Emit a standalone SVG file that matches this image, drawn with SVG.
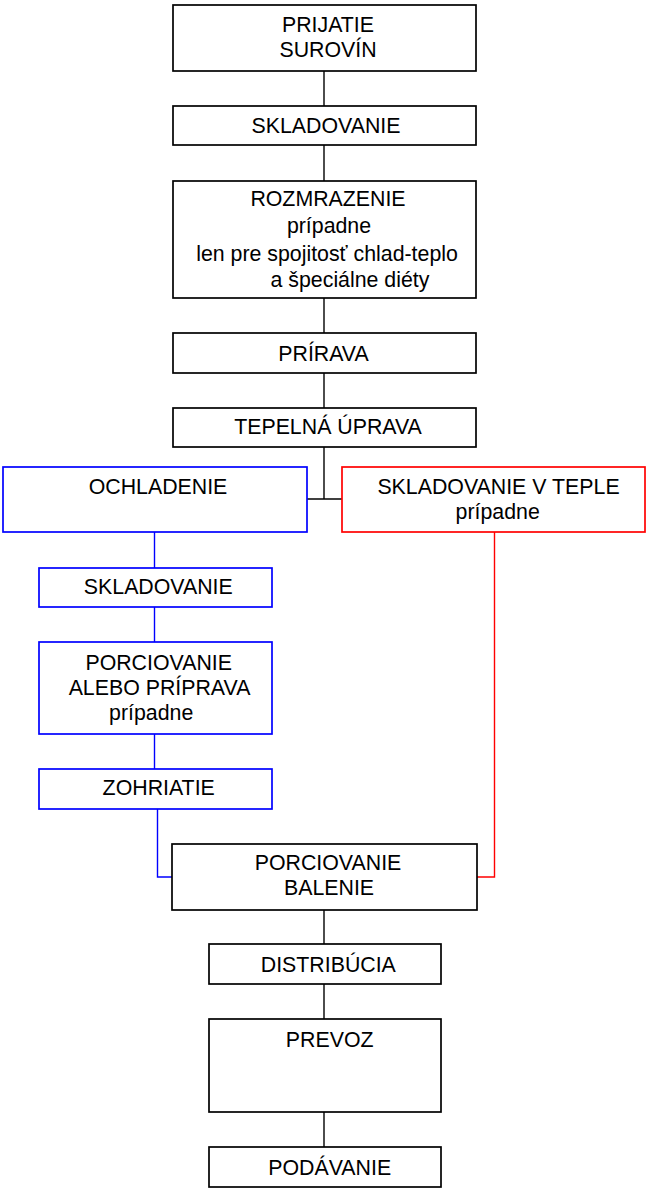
<svg xmlns="http://www.w3.org/2000/svg" width="646" height="1188" viewBox="0 0 646 1188">
<style>
rect{fill:#fff;stroke-width:1.7}
.k rect{stroke:#000}
.b rect{stroke:#0000ff}
.r rect{stroke:#ff0000}
text{font-family:"Liberation Sans",Arial,sans-serif;font-size:21.33px;fill:#000;text-anchor:middle}
.c line,.c polyline{fill:none;stroke-width:1.4}
.ck{stroke:#000}
.cb{stroke:#0000ff}
.cr{stroke:#ff0000}
</style>
<rect x="0" y="0" width="646" height="1188" style="fill:#fff;stroke:none"/>
<g class="c" id="connectors">
<line class="ck" x1="324" y1="71" x2="324" y2="106"/>
<line class="ck" x1="324" y1="145" x2="324" y2="181"/>
<line class="ck" x1="324" y1="298" x2="324" y2="333"/>
<line class="ck" x1="324" y1="373" x2="324" y2="408"/>
<line class="ck" x1="324" y1="447" x2="324" y2="499"/>
<line class="ck" x1="307" y1="499" x2="342" y2="499"/>
<line class="cb" x1="154.5" y1="532" x2="154.5" y2="568"/>
<line class="cb" x1="154.5" y1="607" x2="154.5" y2="642"/>
<line class="cb" x1="154.5" y1="734" x2="154.5" y2="769"/>
<polyline class="cb" points="157.5,809 157.5,877 172,877"/>
<polyline class="cr" points="494.5,532 494.5,877 477,877"/>
<line class="ck" x1="324" y1="910" x2="324" y2="944"/>
<line class="ck" x1="324" y1="984" x2="324" y2="1019"/>
<line class="ck" x1="324" y1="1112" x2="324" y2="1147"/>
</g>
<g id="prijatie" class="k"><rect x="173" y="5" width="303" height="66"/><text x="328" y="32">PRIJATIE</text><text x="328" y="57">SUROVÍN</text></g>
<g id="skladovanie1" class="k"><rect x="173" y="106" width="303" height="39"/><text x="326" y="133">SKLADOVANIE</text></g>
<g id="rozmrazenie" class="k"><rect x="173" y="181" width="303" height="117"/><text x="328" y="206">ROZMRAZENIE</text><text x="329" y="233">prípadne</text><text x="327" y="261">len pre spojitosť chlad-teplo</text><text x="350" y="287">a špeciálne diéty</text></g>
<g id="prirava" class="k"><rect x="173" y="333" width="303" height="40"/><text x="323.5" y="361">PRÍRAVA</text></g>
<g id="tepelna" class="k"><rect x="173" y="408" width="303" height="39"/><text x="328" y="433.5">TEPELNÁ ÚPRAVA</text></g>
<g id="ochladenie" class="b"><rect x="3" y="467" width="304" height="65"/><text x="158" y="493.5">OCHLADENIE</text></g>
<g id="skladovanie-teple" class="r"><rect x="342" y="467" width="303" height="65"/><text x="498.5" y="493.5">SKLADOVANIE V TEPLE</text><text x="497.7" y="518.5">prípadne</text></g>
<g id="skladovanie2" class="b"><rect x="39" y="568" width="233" height="39"/><text x="158.3" y="594">SKLADOVANIE</text></g>
<g id="porciovanie-priprava" class="b"><rect x="39" y="642" width="233" height="92"/><text x="158.7" y="669.5">PORCIOVANIE</text><text x="159.5" y="695">ALEBO PRÍPRAVA</text><text x="151.2" y="720">prípadne</text></g>
<g id="zohriatie" class="b"><rect x="39" y="769" width="233" height="40"/><text x="158.7" y="795">ZOHRIATIE</text></g>
<g id="porciovanie-balenie" class="k"><rect x="172" y="844" width="305" height="66"/><text x="328" y="870">PORCIOVANIE</text><text x="329" y="895">BALENIE</text></g>
<g id="distribucia" class="k"><rect x="209" y="944" width="232" height="40"/><text x="328.3" y="971.5">DISTRIBÚCIA</text></g>
<g id="prevoz" class="k"><rect x="209" y="1019" width="232" height="93"/><text x="329.7" y="1046.5">PREVOZ</text></g>
<g id="podavanie" class="k"><rect x="209" y="1147" width="232" height="40"/><text x="329.7" y="1175">PODÁVANIE</text></g>
</svg>
